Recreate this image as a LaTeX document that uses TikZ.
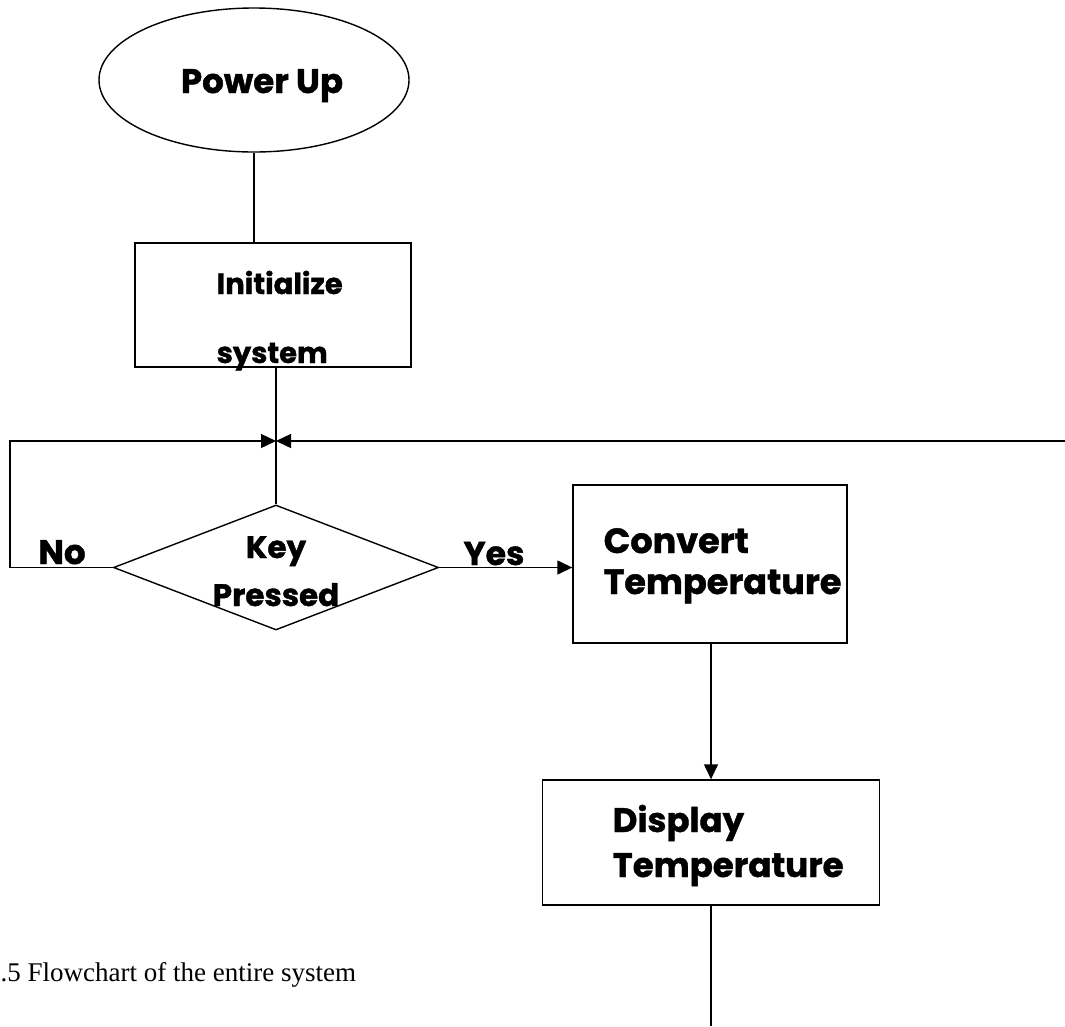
\documentclass[tikz,border=0pt]{standalone}
\usepackage{fontspec}
\setmainfont{Poppins}[BoldFeatures={FakeBold=1.2}]
\newfontfamily\capfont{Liberation Serif}
\usetikzlibrary{shapes.geometric,arrows.meta}
\begin{document}
\begin{tikzpicture}[x=1pt,y=-1pt,line width=1.4pt,
  shapebox/.style={draw=black,line width=1.4pt,inner sep=0pt},
  tip/.style={-{Triangle[length=15pt,width=14pt]}},
  lbl/.style={font=\bfseries\fontsize{31}{33}\selectfont,inner sep=0pt,anchor=base},
  lblw/.style={inner sep=0pt,anchor=base west},
  big/.style={font=\bfseries\fontsize{34}{37}\selectfont},
  mid/.style={font=\bfseries\fontsize{29}{31}\selectfont}]
\useasboundingbox (0,0) rectangle (1065,1026);
% shapes
\node[shapebox,ellipse,minimum width=310pt,minimum height=144pt] (power) at (254,80) {};
\node[shapebox,rectangle,minimum width=276pt,minimum height=124pt] (init) at (273,305) {};
\node[shapebox,diamond,minimum width=325pt,minimum height=125pt] (dec) at (276,567.5) {};
\node[shapebox,rectangle,minimum width=274pt,minimum height=158pt] (conv) at (710,564) {};
\node[shapebox,rectangle,minimum width=337pt,minimum height=125pt] (disp) at (711,842.5) {};
% texts
\node[lbl,font=\bfseries\fontsize{34}{36}\selectfont] (powert) at (262,93) {Power Up};
\node[lblw,mid] (initt1) at (216,294) {Initialize};
\node[lblw,mid] (initt2) at (216,363) {system};
\node[lbl] (keyt1) at (276,558) {Key};
\node[lbl] (keyt2) at (276,606) {Pressed};
\node[lbl,font=\bfseries\fontsize{34}{36}\selectfont] (no) at (62,564) {No};
\node[lbl,font=\bfseries\fontsize{33}{35}\selectfont] (yes) at (494,565) {Yes};
\node[lblw,font=\bfseries\fontsize{35}{37}\selectfont] (convt1) at (603,553) {Convert};
\node[lblw,font=\bfseries\fontsize{35}{37}\selectfont] (convt2) at (603,594) {Temperature};
\node[lblw,big] (dispt1) at (612,832) {Display};
\node[lblw,big] (dispt2) at (612,877) {Temperature};
\node[lblw,font=\capfont\fontsize{27}{29}\selectfont] (cap) at (0,981) {.5 Flowchart of the entire system};
% connectors
\coordinate (j) at (dec.north |- 0,441);
\coordinate (lc) at (10,441);
\coordinate (rc) at (1065,441);
\coordinate (bot) at (disp.south |- 0,1026);
\draw (power.south) -- (power.south |- init.north);
\draw (init.south -| dec.north) -- (dec.north);
\draw[tip] (dec.west) -| (lc) -- (j);
\draw[tip] (rc) -- (j);
\draw[tip] (dec.east) -- (dec.east -| conv.west);
\draw[tip] (conv.south -| disp.north) -- (disp.north);
\draw (disp.south) -- (bot);
\end{tikzpicture}
\end{document}
